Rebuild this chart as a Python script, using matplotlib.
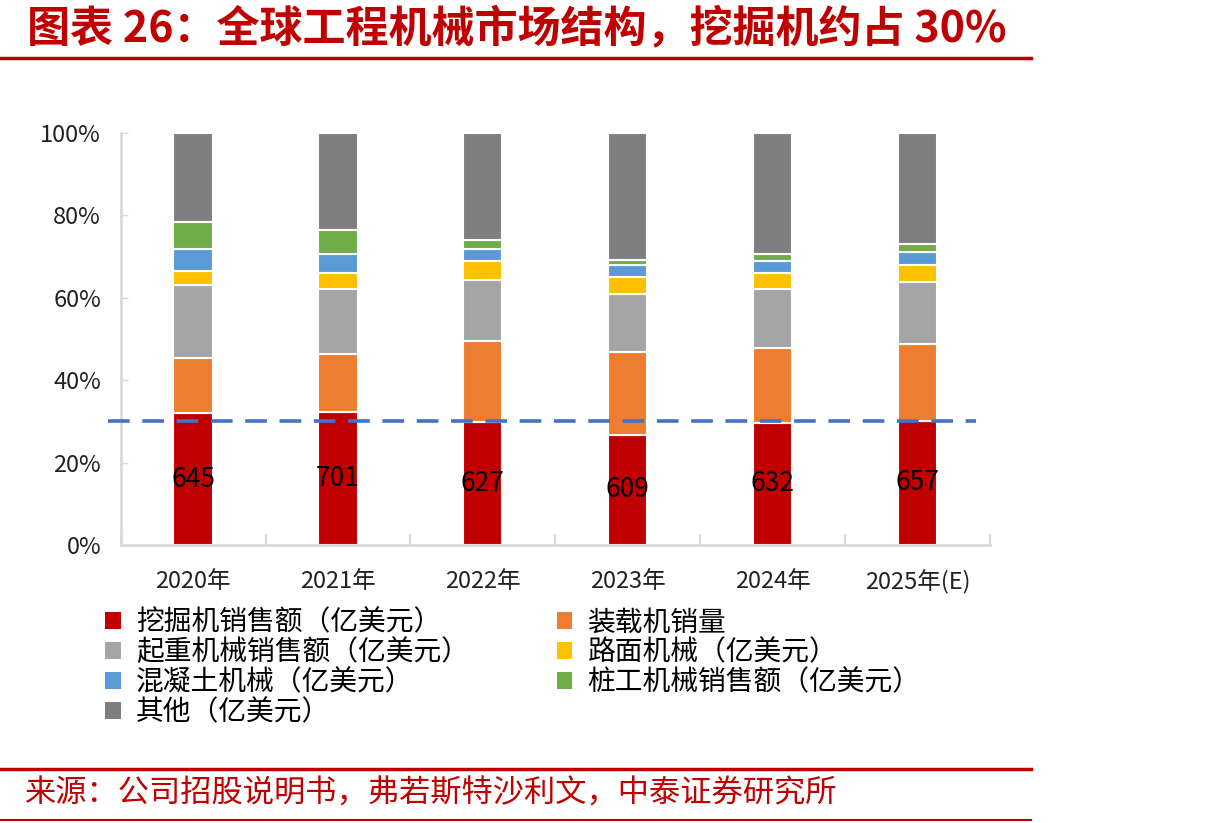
import matplotlib
matplotlib.use("Agg")
import matplotlib.pyplot as plt
from matplotlib.lines import Line2D
from matplotlib.patches import Patch
import numpy as np

plt.rcParams['font.family'] = ['Noto Sans CJK SC', 'DejaVu Sans']

years = ["2020年", "2021年", "2022年", "2023年", "2024年", "2025年(E)"]
excavator = [32.0, 32.3, 29.9, 26.7, 29.7, 30.1]
loader = [13.4, 14.0, 19.6, 20.2, 18.1, 18.65]
crane = [17.6, 15.8, 14.8, 14.0, 14.3, 15.1]
paving = [3.4, 3.9, 4.6, 4.1, 3.9, 4.15]
concrete = [5.4, 4.6, 2.95, 3.0, 2.9, 3.0]
piling = [6.7, 5.9, 2.15, 1.2, 1.7, 2.0]
other = [21.5, 23.5, 26.0, 30.8, 29.4, 27.0]
excavator_sales = [645, 701, 627, 609, 632, 657]
ref_share = 30

names = ["挖掘机销售额（亿美元）", "装载机销量", "起重机械销售额（亿美元）",
         "路面机械（亿美元）", "混凝土机械（亿美元）", "桩工机械销售额（亿美元）",
         "其他（亿美元）"]
colors = ["#C00000", "#ED7D31", "#A5A5A5", "#FFC000", "#5B9BD5", "#70AD47", "#7F7F7F"]
series = [excavator, loader, crane, paving, concrete, piling, other]

fig = plt.figure(figsize=(12.24, 8.23), dpi=100)
ax = fig.add_axes([0.0985, 0.3378, 0.7105, 0.5006])

x = np.arange(len(years))
bottom = np.zeros(len(years))
containers = []
for vals, c, n in zip(series, colors, names):
    bc = ax.bar(x, vals, 0.27, bottom=bottom, color=c, edgecolor="white",
                linewidth=1.5, label=n, zorder=2)
    containers.append(bc)
    bottom += np.array(vals)

ax.bar_label(containers[0], labels=[str(v) for v in excavator_sales],
             label_type="center", fontsize=19, color="black", zorder=4)

ax.set_xlim(-0.5, len(years) - 0.5)
ax.set_ylim(0, 100)
ax.set_yticks(np.arange(0, 101, 20))
ax.set_yticklabels([f"{v}%" for v in range(0, 101, 20)])
ax.set_xticks(x)
ax.set_xticklabels(years)
ax.set_xticks(np.arange(-0.5, len(years), 1.0), minor=True)
ax.tick_params(axis="x", which="major", length=0, pad=18, labelsize=17, colors="#222222")
ax.tick_params(axis="x", which="minor", direction="in", length=8, width=1.5, color="#D9D9D9")
ax.tick_params(axis="y", direction="in", length=5, width=1, color="#D9D9D9",
               pad=14, labelsize=17, labelcolor="#222222")
for s in ["top", "right"]:
    ax.spines[s].set_visible(False)
for s in ["left", "bottom"]:
    ax.spines[s].set_color("#D9D9D9")
    ax.spines[s].set_linewidth(2)

# 30% reference dashed line
ax.add_line(Line2D([-0.588, 5.40], [ref_share, ref_share], color="#4472C4",
                   linewidth=2.6, dashes=(6, 3.5), clip_on=False, zorder=3))

# legends
h = [Patch(facecolor=c, edgecolor="none") for c in colors]
left_idx = [0, 2, 4, 6]
right_idx = [1, 3, 5]
common = dict(frameon=False, fontsize=20, handlelength=0.55, handleheight=0.55,
              handletextpad=0.55, labelspacing=0.0, borderaxespad=0, borderpad=0)
fig.legend([h[i] for i in left_idx], [names[i] for i in left_idx],
           loc="upper left", bbox_to_anchor=(0.086, 0.262), **common)
fig.legend([h[i] for i in right_idx], [names[i] for i in right_idx],
           loc="upper left", bbox_to_anchor=(0.455, 0.262), **common)

# title & decorations
fig.text(0.022, 0.965, "图表 26：全球工程机械市场结构，挖掘机约占 30%", color="#C00000",
         fontsize=31, fontweight="bold", va="center", ha="left")
fig.add_artist(Line2D([0, 0.842], [0.930, 0.930], color="#C00000", linewidth=2.5,
                      transform=fig.transFigure))
fig.add_artist(Line2D([0, 0.842], [0.066, 0.066], color="#C00000", linewidth=2.5,
                      transform=fig.transFigure))
fig.add_artist(Line2D([0, 0.842], [0.004, 0.004], color="#C00000", linewidth=1.5,
                      transform=fig.transFigure))
fig.text(0.020, 0.036, "来源：公司招股说明书，弗若斯特沙利文，中泰证券研究所", color="#C00000",
         fontsize=22.5, va="center", ha="left")

fig.savefig("out.png", dpi=100)
